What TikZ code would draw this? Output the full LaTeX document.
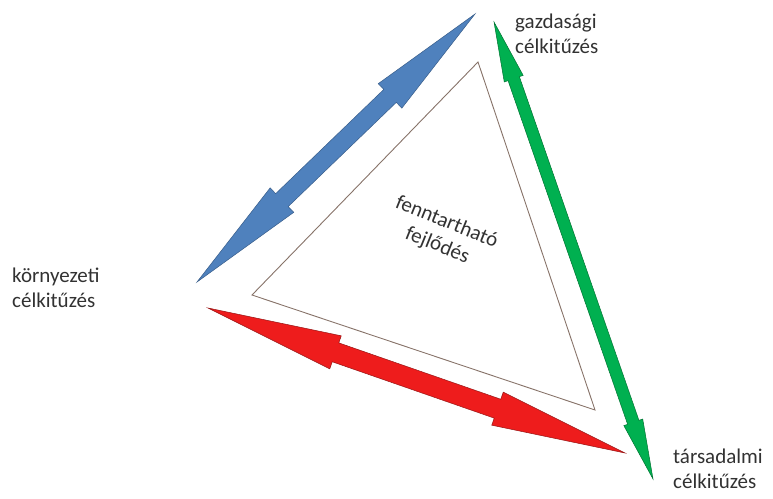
\documentclass[tikz,border=0pt]{standalone}
\usepackage{fontspec}
\setmainfont{Carlito}
\usetikzlibrary{calc}
\definecolor{EnvBlue}{RGB}{79,129,189}
\definecolor{EnvBlueLine}{RGB}{56,93,138}
\definecolor{EcoGreen}{RGB}{0,176,80}
\definecolor{EcoGreenLine}{RGB}{0,115,50}
\definecolor{SocRed}{RGB}{238,28,28}
\definecolor{SocRedLine}{RGB}{150,20,20}
\definecolor{TriBrown}{RGB}{135,115,105}
\definecolor{LabelGray}{RGB}{50,50,50}
\tikzset{
  goal/.style={anchor=base west, align=left, inner sep=0pt, text=LabelGray,
    font=\fontsize{21}{25}\selectfont},
  core/.style={align=center, inner sep=0pt, text=LabelGray,
    font=\fontsize{21}{25}\selectfont},
  tri/.style={draw=TriBrown, line width=0.9pt, line join=miter},
  bluearrow/.style={fill=EnvBlue, draw=EnvBlueLine, line width=0.5pt},
  greenarrow/.style={fill=EcoGreen, draw=EcoGreenLine, line width=0.5pt},
  redarrow/.style={fill=SocRed, draw=SocRedLine, line width=0.5pt}
}
% block arrow with two heads: [style] from, to, head length, head half width, shaft half width
\newcommand{\dblarrow}[6][]{%
  \filldraw[#1] (#2)
    -- ($(#2)!#4!(#3)!#5!90:(#3)$)
    -- ($(#2)!#4!(#3)!#6!90:(#3)$)
    -- ($(#3)!#4!(#2)!#6!-90:(#2)$)
    -- ($(#3)!#4!(#2)!#5!-90:(#2)$)
    -- (#3)
    -- ($(#3)!#4!(#2)!#5!90:(#2)$)
    -- ($(#3)!#4!(#2)!#6!90:(#2)$)
    -- ($(#2)!#4!(#3)!#6!-90:(#3)$)
    -- ($(#2)!#4!(#3)!#5!-90:(#3)$)
    -- cycle;}

\begin{document}
\begin{tikzpicture}[x=1pt, y=-1pt]
  \useasboundingbox (0,0) rectangle (773,498);
  % inner triangle
  \coordinate (ttop) at (478,62);
  \coordinate (tleft) at (252,295);
  \coordinate (tright) at (595,410);
  \draw[tri] (ttop) -- (tleft) -- (tright) -- cycle;
  \node[core, rotate=-22] (sust) at (442,234) {fenntartható\\fejlődés};
  % goals (anchored at the baseline of the last line)
  \node[goal] (eco) at (515,53) {gazdasági\\célkitűzés};
  \node[goal] (env) at (12,307) {környezeti\\célkitűzés};
  \node[goal] (soc) at (673,488) {társadalmi\\célkitűzés};
  % arrow ends
  \coordinate (blueA) at (197,282);
  \coordinate (blueB) at (475,14);
  \coordinate (greenA) at (494,22);
  \coordinate (greenB) at (653,479);
  \coordinate (redA) at (208,308);
  \coordinate (redB) at (625,453);
  \dblarrow[bluearrow]{blueA}{blueB}{118pt}{17pt}{9pt}
  \dblarrow[greenarrow]{greenA}{greenB}{60pt}{10pt}{6pt}
  \dblarrow[redarrow]{redA}{redB}{135pt}{17.5pt}{10pt}
\end{tikzpicture}
\end{document}
